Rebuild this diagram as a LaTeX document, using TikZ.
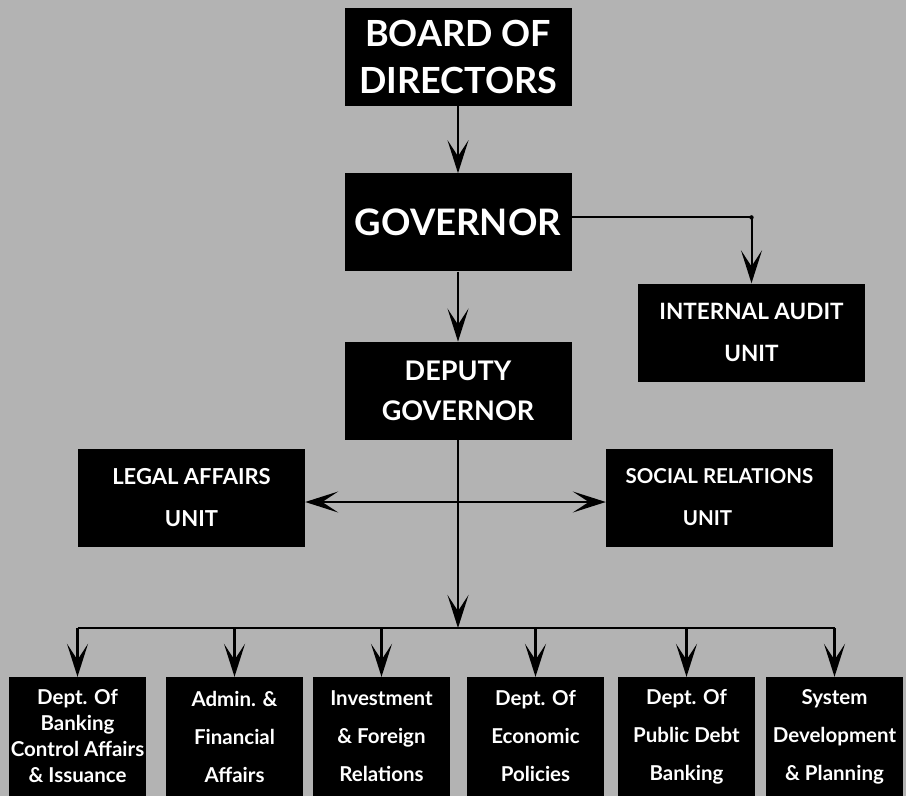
\documentclass[tikz,border=0pt]{standalone}
\usepackage{fontspec}
\setmainfont{Lato}
\usetikzlibrary{arrows.meta,positioning}
\definecolor{chartgray}{RGB}{179,179,179}

\begin{document}
\begin{tikzpicture}[x=1pt,y=-1pt,
    unit/.style={fill=black,text=white,align=center,inner sep=0pt,
        minimum width=227pt,minimum height=98pt,font=\bfseries},
    dept/.style={unit,minimum width=137pt,minimum height=119pt,
        font=\bfseries\fontsize{20.5}{38}\selectfont},
    link/.style={line width=2.4pt},
    >={Stealth[length=33pt,width=21pt,inset=16pt]}]
    \fill[chartgray] (0,0) rectangle (906,796);
    \useasboundingbox (0,0) rectangle (906,796);
    % management chain
    \node[unit,font=\bfseries\fontsize{36}{47}\selectfont] (board) at (458,57) {BOARD OF\\DIRECTORS};
    \node[unit,below=67pt of board,font=\bfseries\fontsize{36.5}{42}\selectfont] (gov) {GOVERNOR};
    \node[unit,below=70pt of gov,font=\bfseries\fontsize{27}{40}\selectfont] (deputy) {DEPUTY\\GOVERNOR};
    \node[unit,font=\bfseries\fontsize{22.5}{42}\selectfont] (audit) at (751.5,332.5) {INTERNAL AUDIT\\UNIT};
    \node[unit,font=\bfseries\fontsize{22}{42}\selectfont] (legal) at (191.5,497.5) {LEGAL AFFAIRS\\UNIT};
    \node[unit,font=\bfseries\fontsize{20.5}{42}\selectfont] (social) at (719.5,497.5) {SOCIAL RELATIONS\\UNIT\hspace*{24pt}};
    % departments
    \node[dept,font=\bfseries\fontsize{20.5}{26}\selectfont] (d1) at (77.5,736.5) {Dept. Of\\Banking\\Control Affairs\\\& Issuance};
    \node[dept] (d2) at (234.5,736.5) {Admin. \&\\Financial\\Affairs};
    \node[dept] (d3) at (381.5,736.5) {Investment\\\& Foreign\\Relations};
    \node[dept] (d4) at (535.5,736.5) {Dept. Of\\Economic\\Policies};
    \node[dept] (d5) at (686.5,736.5) {Dept. Of\\Public Debt\\Banking};
    \node[dept] (d6) at (834.5,736.5) {System\\Development\\\& Planning};
    % connectors
    \draw[link,->] (board) -- (gov);
    \draw[link,->] (gov) -- (deputy);
    \coordinate (govout) at ([yshift=5pt]gov.east);
    \draw[line width=2pt,->] (govout) -| (audit.north);
    \fill (audit.north |- govout) circle (2.2pt);
    \draw[link,<->] ([yshift=-4.5pt]legal.east) -- ([yshift=-4.5pt]social.west);
    \coordinate (bus) at (deputy.south |- 0,628);
    \draw[link,->] (deputy) -- (bus);
    \draw[link] (d1.north |- bus) -- (d6.north |- bus);
    \foreach \i in {1,...,6}
        \draw[link,->] (d\i.north |- bus) -- (d\i.north);
\end{tikzpicture}
\end{document}
